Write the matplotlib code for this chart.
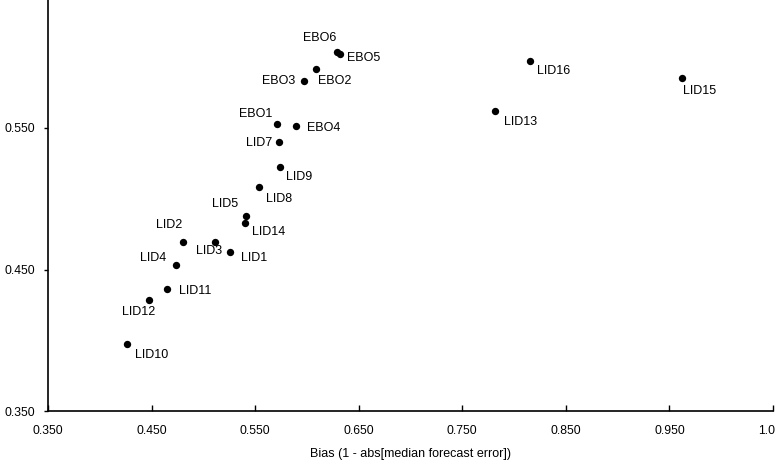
import matplotlib
matplotlib.use("Agg")
import matplotlib.pyplot as plt

plt.rcParams['font.family'] = ['Liberation Sans', 'DejaVu Sans']

names = ["EBO6", "EBO5", "EBO2", "EBO3", "EBO1", "EBO4", "LID7", "LID9", "LID8",
         "LID5", "LID14", "LID2", "LID3", "LID1", "LID4", "LID11", "LID12", "LID10",
         "LID16", "LID13", "LID15"]
bias = [0.629, 0.632, 0.609, 0.597, 0.571, 0.589, 0.573, 0.574, 0.554,
        0.541, 0.540, 0.480, 0.511, 0.526, 0.474, 0.465, 0.448, 0.426,
        0.815, 0.782, 0.962]
score = [0.6037, 0.6023, 0.5917, 0.5832, 0.5528, 0.5516, 0.5399, 0.5225, 0.5083,
         0.4880, 0.4831, 0.4697, 0.4697, 0.4626, 0.4532, 0.4362, 0.4287, 0.3971,
         0.5973, 0.5618, 0.5856]
x_ticks = [0.35, 0.45, 0.55, 0.65, 0.75, 0.85, 0.95, 1.05]
x_ticklabels = ["0.350", "0.450", "0.550", "0.650", "0.750", "0.850", "0.950", "1.050"]
y_ticks = [0.35, 0.45, 0.55]
y_ticklabels = ["0.350", "0.450", "0.550"]
x_label = "Bias (1 - abs[median forecast error])"

# label placement (pixel offsets from the dot, horizontal alignment)
label_pos = {
    "EBO6": (-17, 16, "center"), "EBO5": (7, -3, "left"), "EBO2": (2, -11, "left"),
    "EBO3": (-9, 2, "right"), "EBO1": (-5, 12, "right"), "EBO4": (11, -1, "left"),
    "LID7": (-7, 1, "right"), "LID9": (6, -9, "left"), "LID8": (7, -10, "left"),
    "LID5": (-8, 13, "right"), "LID14": (7, -8, "left"), "LID2": (0, 18, "right"),
    "LID3": (-6, -8, "center"), "LID1": (11, -5, "left"), "LID4": (-10, 8, "right"),
    "LID11": (12, 0, "left"), "LID12": (-11, -11, "center"), "LID10": (8, -9, "left"),
    "LID16": (7, -8, "left"), "LID13": (9, -9, "left"), "LID15": (1, -12, "left"),
}

W, H = 775, 466
fig = plt.figure(figsize=(W / 100, H / 100), dpi=100)
left_px, bottom_px, right_px = 48, 411, 773
ax = fig.add_axes([left_px / W, (H - bottom_px) / H, (right_px - left_px) / W, bottom_px / H])
ax.set_xlim(0.35, 1.05)
ax.set_ylim(0.35, 0.35 + bottom_px / 1415)

ax.scatter(bias, score, s=28, color="black", zorder=3, linewidths=0)
for n, xv, yv in zip(names, bias, score):
    dx, dy, ha = label_pos[n]
    ax.annotate(n, (xv, yv), xytext=(dx, dy - 1.5), textcoords="offset pixels",
                ha=ha, va="center", fontsize=9, color="black")

ax.spines["top"].set_visible(False)
ax.spines["right"].set_visible(False)
ax.spines["left"].set_linewidth(1.2)
ax.spines["bottom"].set_linewidth(1.2)

ax.set_xticks(x_ticks)
ax.set_xticklabels(x_ticklabels, fontsize=8.7)
ax.set_yticks(y_ticks)
ax.set_yticklabels(y_ticklabels, fontsize=8.7)
ax.tick_params(axis="x", direction="in", length=4, width=1, pad=10)
ax.tick_params(axis="y", direction="out", length=3, width=1, pad=6)
ax.set_xlabel(x_label, fontsize=9, labelpad=8)

fig.savefig("out.png", dpi=100)
